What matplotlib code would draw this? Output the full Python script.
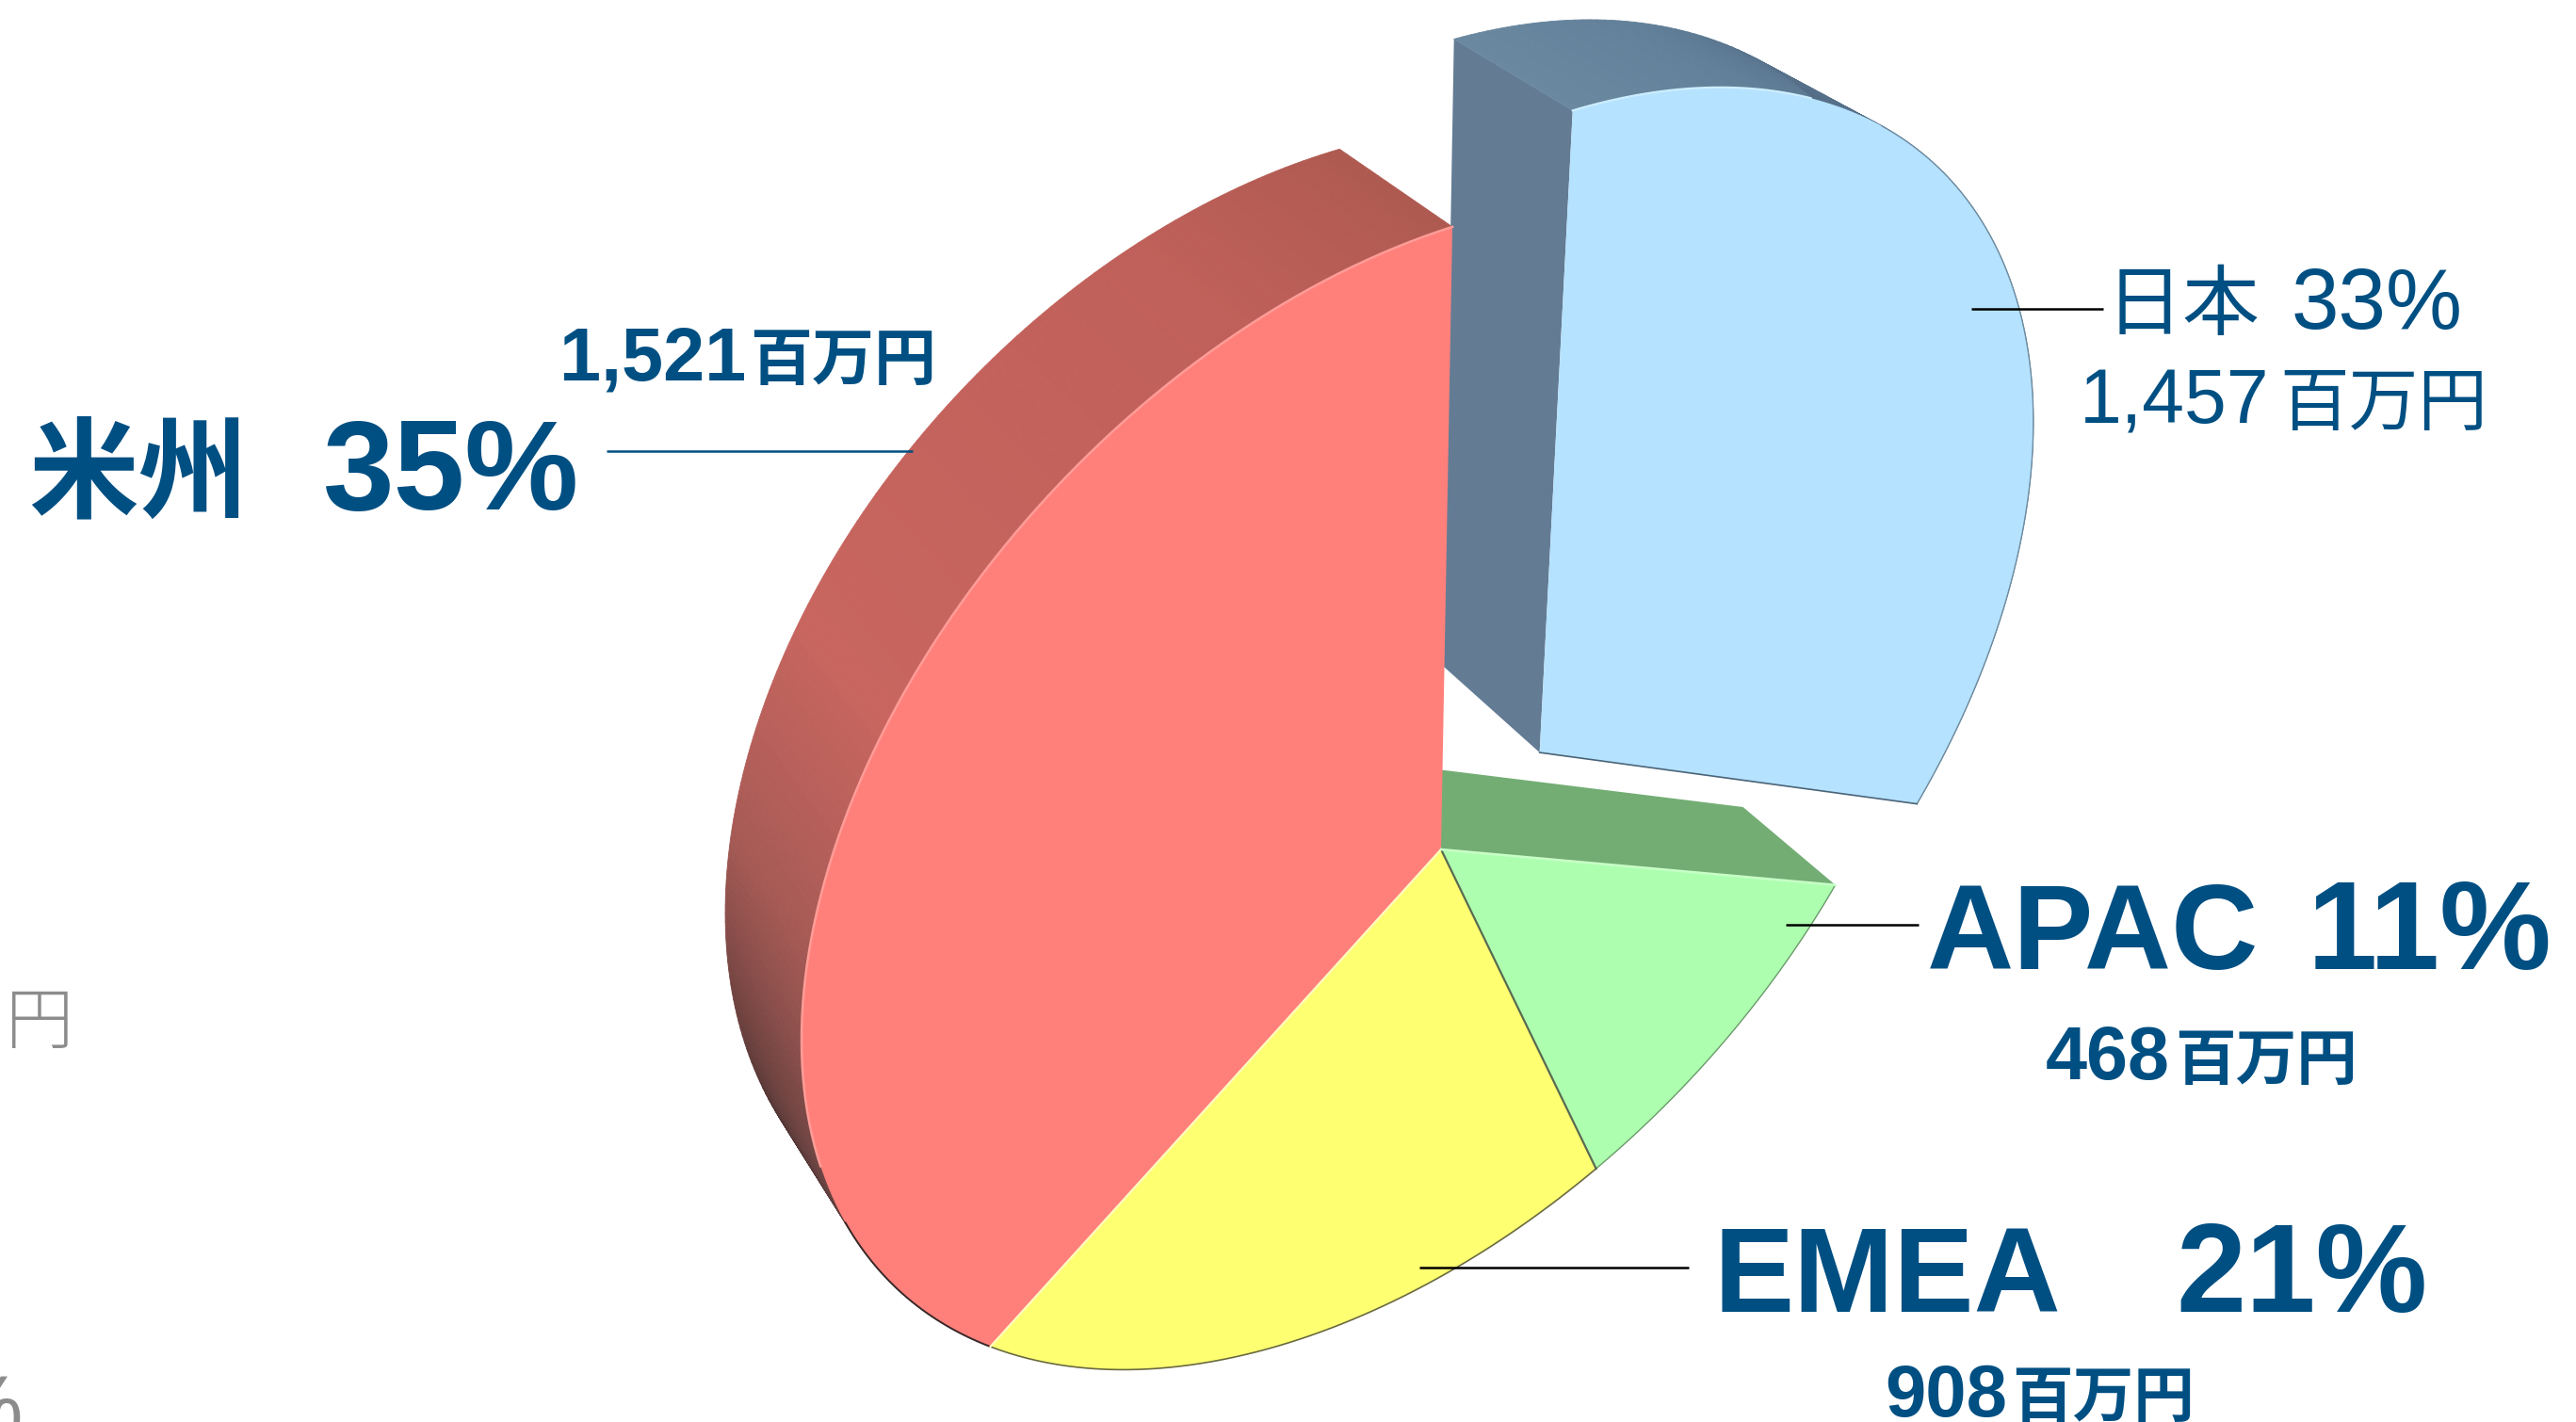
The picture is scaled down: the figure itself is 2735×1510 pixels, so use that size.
import numpy as np
import matplotlib
matplotlib.use("Agg")
import matplotlib.pyplot as plt
from matplotlib.collections import PolyCollection
from matplotlib.colors import to_rgb
from matplotlib.patches import Polygon

regions = ["日本", "APAC", "EMEA", "米州"]
amounts = [1457, 468, 908, 1521]
shares = [33, 11, 21, 35]

# pie plane -> pixels, a perspective camera fitted by eye to the picture
CX, CY = 1530, 902
A, B, D, E, G, H = 9.84404, 587.04472, -541.09514, -265.95073, -0.18154, 0.12135
R, VX, VY = 0.045, -2287, -2245
JAPAN_SHIFT = (0.10369, 0.17701)

LATIN = "Liberation Sans"
CJK = "Noto Sans CJK JP"
TEXT_BLUE = "#004F82"
GRAY = "#8C8C8C"

fb = np.cumsum([0] + amounts) / sum(amounts)


def project(f, z=0.0, shift=(0.0, 0.0), radius=1.0):
    p = 2 * np.pi * np.asarray(f, dtype=float)
    c = radius * np.cos(p) + shift[0]
    s = radius * np.sin(p) + shift[1]
    w = 1 + G * c + H * s + R * z
    x = CX + (A * c + B * s + R * z * VX) / w
    y = CY + (D * c + E * s + R * z * VY) / w
    return np.column_stack([x, y])


def face(f0, f1, shift=(0.0, 0.0)):
    rim = project(np.linspace(f0, f1, 120), shift=shift)
    return np.vstack([project(f0, shift=shift, radius=0), rim])


def spoke(f, shift=(0.0, 0.0)):
    return np.vstack([project(f, shift=shift, radius=0), project(f, shift=shift)])


def wall(ax, f0, f1, stops, shift=(0.0, 0.0), n=160, nz=14, dark_below=0.0):
    fs = np.linspace(f0, f1, n + 1)
    zs = np.linspace(0, 1, nz + 1)
    stop_f = [q[0] for q in stops]
    rgb = np.array([to_rgb(q[1]) for q in stops])
    polys, cols = [], []
    for i in range(n):
        fm = (fs[i] + fs[i + 1]) / 2
        base = np.array([np.interp(fm, stop_f, rgb[:, k]) for k in range(3)])
        for j in range(nz):
            a = project(fs[i:i + 2], zs[j], shift)
            b = project(fs[i:i + 2], zs[j + 1], shift)
            polys.append(np.vstack([a, b[::-1]]))
            dark = 0.35 * zs[j] * max(0.0, (dark_below - fm) / 0.15)
            cols.append(base * (1 - dark))
    ax.add_collection(PolyCollection(polys, facecolors=cols, edgecolors=cols, linewidths=0.6))


def put(ax, x, y, s, size, weight="bold", family=LATIN, color=TEXT_BLUE):
    ax.text(x, y, s, color=color, fontsize=size, fontweight=weight, family=family, ha="left", va="baseline")


def leader(ax, x0, x1, y, color="black"):
    ax.plot([x0, x1], [y, y], color=color, lw=1.8, solid_capstyle="butt")


fig = plt.figure(figsize=(27.35, 15.10), dpi=100)
ax = fig.add_axes([0, 0, 1, 1])
ax.set_xlim(0, 2735)
ax.set_ylim(1510, 0)
ax.axis("off")

# sides, back to front
green_side = np.vstack([project(fb[1], 0), project(fb[1], 1), project(fb[1], 1, radius=0), project(fb[1], 0, radius=0)])
ax.add_patch(Polygon(green_side, facecolor="#73AD74", edgecolor="none"))
blue_side = np.vstack([project(0, 0, JAPAN_SHIFT), project(0, 1, JAPAN_SHIFT),
                       project(0, 1, JAPAN_SHIFT, radius=0), project(0, 0, JAPAN_SHIFT, radius=0)])
ax.add_patch(Polygon(blue_side, facecolor="#637C94", edgecolor="none"))
wall(ax, 0, fb[1], [(0, "#6A88A0"), (0.05, "#617F98"), (0.10, "#56708A"), (0.15, "#4C6579"), (fb[1], "#4C6579")], JAPAN_SHIFT)
wall(ax, fb[3], 1, [(fb[3], "#2A2020"), (0.70, "#4A3030"), (0.73, "#6A4442"), (0.76, "#7E4A47"),
                    (0.80, "#A65A55"), (0.85, "#C8655F"), (0.95, "#C0605A"), (1, "#AE5A50")], dark_below=0.80)

# top faces
ax.add_patch(Polygon(face(fb[0], fb[1], JAPAN_SHIFT), facecolor="#B5E2FF", edgecolor="none"))
ax.add_patch(Polygon(face(fb[1], fb[2]), facecolor="#ADFFAF", edgecolor="none"))
ax.add_patch(Polygon(face(fb[2], fb[3]), facecolor="#FFFF72", edgecolor="none"))
ax.add_patch(Polygon(face(fb[3], fb[4]), facecolor="#FF807B", edgecolor="none"))

# bevel lines along the edges
ax.plot(*project(np.linspace(0, 0.065, 40), shift=JAPAN_SHIFT).T, color="#CDEEFF", lw=1.6)
ax.plot(*project(np.linspace(0.09, fb[1], 80), shift=JAPAN_SHIFT).T, color="#6E8CA0", lw=1.0)
ax.plot(*spoke(fb[1], JAPAN_SHIFT).T, color="#4A6478", lw=1.2)
ax.plot(*project(np.linspace(fb[1], fb[2], 30)).T, color="#6A9A6A", lw=1.0)
ax.plot(*project(np.linspace(fb[2], fb[3], 60)).T, color="#6A6A40", lw=1.2)
ax.plot(*project(np.linspace(fb[3], 0.72, 40)).T, color="#3A2828", lw=1.4)
ax.plot(*spoke(fb[2]).T, color="#5A6A50", lw=1.6)
ax.plot(*spoke(fb[3]).T, color="#FFFFC0", lw=1.6)
ax.plot(*spoke(fb[1]).T, color="#C8FFC8", lw=1.8)
ax.plot(*project(np.linspace(0.74, 1, 80)).T, color="#FF9C97", lw=1.8)

# labels
pct = [f"{s}%" for s in shares]
num = [f"{v:,}" for v in amounts]
unit = "百万円"

put(ax, 2236, 349, regions[0], 59, "normal", CJK)
put(ax, 2433, 349, pct[0], 65.5, "normal")
put(ax, 2208, 450, num[0], 58, "normal")
put(ax, 2420, 451, unit, 53, "normal", CJK)

put(ax, 2046, 1029, regions[1], 92)
put(ax, 2450, 1029, pct[1], 96)
put(ax, 2172, 1146, num[1], 57)
put(ax, 2309, 1146, unit, 46.5, "bold", CJK)

put(ax, 1820, 1393, regions[2], 92)
put(ax, 2310, 1393, pct[2], 96)
put(ax, 2001, 1504, num[2], 56)
put(ax, 2136, 1504, unit, 46.5, "bold", CJK)

put(ax, 30, 540, regions[3], 84, "bold", CJK)
put(ax, 343, 541, pct[3], 98)
put(ax, 594, 403, num[3], 57)
put(ax, 796, 403, unit, 47.5, "bold", CJK)

leader(ax, 2093, 2233, 328)
leader(ax, 1896, 2037, 982)
leader(ax, 1507, 1793, 1346)
leader(ax, 644, 969, 479, TEXT_BLUE)

# pieces of the neighbouring slide, cut by the crop
put(ax, 6, 1108, unit[-1], 52, "light", CJK, GRAY)
ax.text(24, 1525, "%", color=GRAY, fontsize=66, family=LATIN, ha="right", va="baseline")

fig.savefig("out.png", dpi=100)
